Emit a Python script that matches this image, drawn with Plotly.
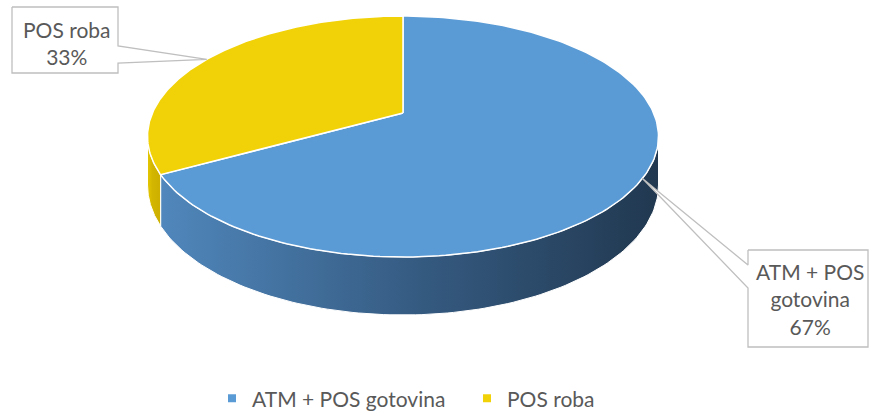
import numpy as np
import plotly.graph_objects as go

# ---- data ----
categories = ["ATM + POS gotovina", "POS roba"]
values = [67, 33]
top_colors = ["#5B9BD5", "#F1D208"]
side_scales = [
    [[0, "#5087BC"], [0.5, "#365C83"], [1, "#213850"]],
    [[0, "#E6C900"], [0.35, "#D3B600"], [1, "#CCAF00"]],
]

# ---- geometry of the 3-D pie (pixel space) ----
W, H = 871, 414
CX, CY = 403.0, 113.0      # projected pie centre
SX, SY = 250.6, 115.9      # horizontal / vertical radius scale
C = 0.195                  # perspective factor
DEPTH = 46.7               # thickness
FONT = "Lato"


def proj(theta_deg):
    t = np.radians(theta_deg)
    den = 1 + C * np.cos(t)
    x = CX + SX * np.sin(t) / den
    y = CY - SY * np.cos(t) / den
    d = DEPTH / den
    return x, y, d


total = sum(values)
bounds = [0.0]
for v in values:
    bounds.append(bounds[-1] + 360.0 * v / total)

tan_r = np.degrees(np.arccos(-C))
tan_l = 360 - tan_r

fig = go.Figure()

# sides (front visible part)
for i in range(len(values)):
    a0 = max(bounds[i], tan_r)
    a1 = min(bounds[i + 1], tan_l)
    if a1 <= a0:
        continue
    th = np.linspace(a0, a1, 120)
    x, y, d = proj(th)
    xs = np.concatenate([x, x[::-1], x[:1]])
    ys = np.concatenate([y, (y + d)[::-1], y[:1]])
    fig.add_trace(go.Scatter(
        x=xs, y=ys, mode="lines", fill="toself",
        fillgradient=dict(type="horizontal", colorscale=side_scales[i]),
        line=dict(color="white", width=1), hoverinfo="skip", showlegend=False))

# top faces
for i in range(len(values)):
    th = np.linspace(bounds[i], bounds[i + 1], 200)
    x, y, _ = proj(th)
    xs = np.concatenate([[CX], x, [CX]])
    ys = np.concatenate([[CY], y, [CY]])
    fig.add_trace(go.Scatter(
        x=xs, y=ys, mode="lines", fill="toself", fillcolor=top_colors[i],
        line=dict(color="white", width=1.5), hoverinfo="skip", showlegend=False))

# callout labels
boxes = [
    # (left, top, right, bottom, side, wedge_y0, wedge_y1, text_y)
    (12, 7, 118, 73, "right", 46, 63, 42.5),
    (748, 250, 868, 347, "left", 265, 288, 298.5),
]
label_order = [1, 0]
for bi, idx in enumerate(label_order):
    l, t, r, b, side, w0, w1, ty_text = boxes[bi]
    mid = (bounds[idx] + bounds[idx + 1]) / 2
    tx, ty, _ = proj(mid)
    if side == "right":
        px = [l, r, r, tx, r, r, l, l]
        py = [t, t, w0, ty, w1, b, b, t]
    else:
        px = [l, r, r, l, l, tx, l, l]
        py = [t, t, b, b, w1, ty, w0, t]
    fig.add_trace(go.Scatter(
        x=px, y=py, mode="lines", fill="toself", fillcolor="white",
        line=dict(color="#BFBFBF", width=1.3), hoverinfo="skip", showlegend=False))
    pct = round(values[idx] / total * 100)
    name = categories[idx].replace("POS gotovina", "POS<br>gotovina") if idx == 0 else categories[idx]
    fig.add_annotation(x=(l + r) / 2 + 2, y=ty_text, xref="x", yref="y",
                       text=f"{name}<br>{pct}%", showarrow=False,
                       font=dict(family=FONT, size=21, color="#595959"),
                       align="center")

# legend entries
for i, cat in enumerate(categories):
    fig.add_trace(go.Scatter(
        x=[None], y=[None], mode="markers", name=cat,
        marker=dict(symbol="square", size=8, color=top_colors[i])))

fig.update_layout(
    width=W, height=H, margin=dict(l=0, r=0, t=0, b=0, autoexpand=False),
    paper_bgcolor="white", plot_bgcolor="white",
    xaxis=dict(range=[0, W], visible=False, fixedrange=True),
    yaxis=dict(range=[H, 0], visible=False, fixedrange=True),
    showlegend=True,
    legend=dict(orientation="h", x=212 / W, xanchor="left", y=0.037, yanchor="middle",
                font=dict(family=FONT, size=21, color="#595959"),
                itemwidth=30, entrywidth=210, bgcolor="rgba(0,0,0,0)"),
)

fig.write_html("out.html", config={"displayModeBar": False},
               post_script="document.body.style.margin='0';document.body.style.overflow='hidden';")
